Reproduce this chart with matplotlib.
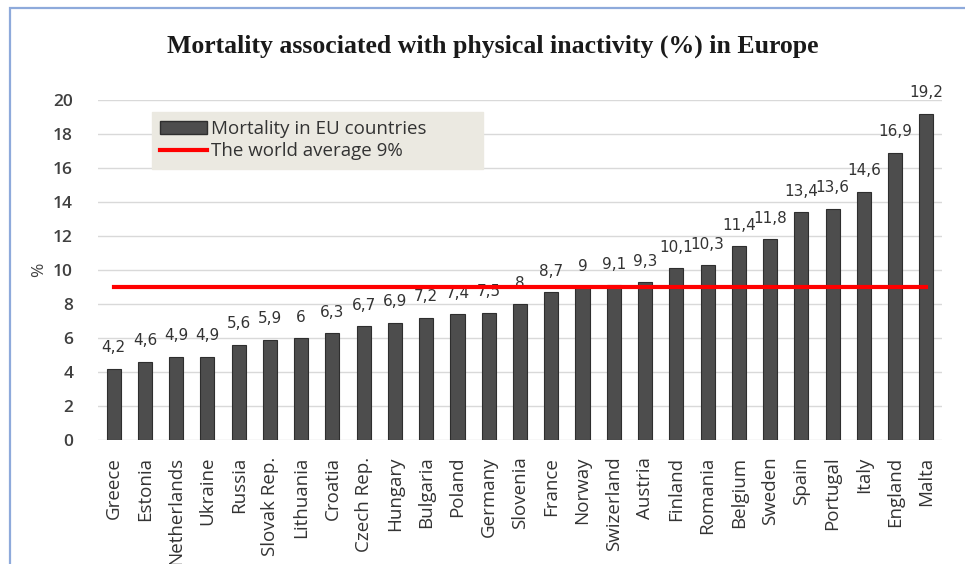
import matplotlib
matplotlib.use("Agg")
import matplotlib.pyplot as plt
from matplotlib.patches import Patch, Rectangle
from matplotlib.lines import Line2D

countries = ["Greece", "Estonia", "Netherlands", "Ukraine", "Russia", "Slovak Rep.",
             "Lithuania", "Croatia", "Czech Rep.", "Hungary", "Bulgaria", "Poland",
             "Germany", "Slovenia", "France", "Norway", "Swizerland", "Austria",
             "Finland", "Romania", "Belgium", "Sweden", "Spain", "Portugal", "Italy",
             "England", "Malta"]
mortality = [4.2, 4.6, 4.9, 4.9, 5.6, 5.9, 6, 6.3, 6.7, 6.9, 7.2, 7.4, 7.5, 8,
             8.7, 9, 9.1, 9.3, 10.1, 10.3, 11.4, 11.8, 13.4, 13.6, 14.6, 16.9, 19.2]
world_average = 9
yticks = list(range(0, 21, 2))

fig = plt.figure(figsize=(9.65, 5.64), dpi=100)
fig.patch.set_facecolor("white")
# frame
fig.add_artist(Rectangle((10/965, -0.05), 1.1, (564-8)/564 + 0.05, transform=fig.transFigure,
                         fill=False, edgecolor="#8eaadb", linewidth=1.6))

ax = fig.add_axes([98/965, 1-440/564, 844/965, 340/564])
x = list(range(len(countries)))
ax.bar(x, mortality, width=0.45, color="#4d4d4d", edgecolor="#2e2e2e", linewidth=0.8, zorder=3)
ax.plot([0, len(countries)-1], [world_average, world_average], color="#ff0000", linewidth=3, zorder=4)

for xi, v in zip(x, mortality):
    lab = ("%g" % v).replace(".", ",")
    ax.annotate(lab, (xi, v), xytext=(0, 15), textcoords="offset points",
                ha="center", va="center", fontsize=11, color="#333333",
                family="DejaVu Sans")

ax.set_xlim(-0.5, len(countries)-0.5)
ax.set_ylim(0, 20)
ax.set_yticks(yticks)
ax.set_yticklabels([str(t) for t in yticks], fontsize=12.5, color="#404040",
                   family="Open Sans", fontweight="semibold")
ax.set_xticks(x)
ax.set_xticklabels(countries, rotation=90, fontsize=13.5, color="#333333", family="Open Sans")
ax.tick_params(axis="y", length=0, pad=18)
ax.tick_params(axis="x", length=0, pad=12)
ax.grid(axis="y", color="#d9d9d9", linewidth=1, zorder=0)
for s in ax.spines.values():
    s.set_visible(False)
ax.set_ylabel("%", fontsize=12.5, color="#404040", family="Open Sans", labelpad=4)

handles = [Patch(facecolor="#4d4d4d", edgecolor="#2e2e2e"),
           Line2D([0], [0], color="#ff0000", linewidth=3)]
leg = ax.legend(handles, ["Mortality in EU countries", "The world average 9%"],
                loc="upper left", bbox_to_anchor=(0.064, 0.70, 0.392, 0.265), mode="expand",
                frameon=True,
                fancybox=False, facecolor="#ebe9e1", edgecolor="#ebe9e1", framealpha=1,
                prop={"family": "Open Sans", "size": 13.5}, handlelength=2.5,
                borderpad=0.45, labelspacing=0.2, handletextpad=0.2, borderaxespad=0)
for t in leg.get_texts():
    t.set_color("#333333")
leg.set_zorder(5)

fig.text(0.511, 0.918, "Mortality associated with physical inactivity (%) in Europe",
         ha="center", va="center", fontsize=18.5, fontweight="bold",
         family="Liberation Serif", color="#1a1a1a")

fig.savefig("out.png", dpi=100)
